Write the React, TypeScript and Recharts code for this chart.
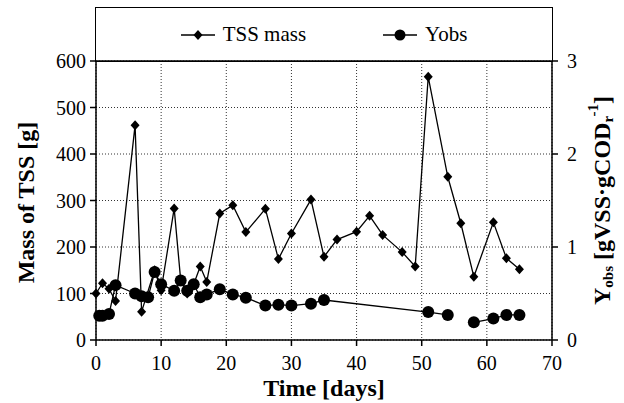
import React from 'react';
import {
  CartesianGrid,
  Legend,
  Line,
  LineChart,
  ReferenceLine,
  XAxis,
  YAxis,
} from 'recharts';

// TSS mass in the reactor [g], by day
const tssDays = [0, 1, 2, 3, 6, 7, 9, 10, 12, 13, 14, 15, 16, 17, 19, 21, 23, 26, 28, 30, 33, 35, 37, 40, 42, 44, 47, 49, 51, 54, 56, 58, 61, 63, 65];
const tssMass = [100, 122, 110, 84, 462, 61, 150, 107, 283, 129, 100, 120, 158, 125, 272, 290, 232, 282, 174, 229, 302, 179, 216, 233, 267, 226, 189, 158, 566, 351, 251, 136, 253, 176, 152];

// observed yield [gVSS/gCODr], null breaks the line
const yobsDays = [0.5, 1, 2, 3, 6, 7, 8, 9, 10, 12, 13, 14, 15, 16, 17, 19, 21, 23, 26, 28, 30, 33, 35, 51, 54, 56, 58, 61, 63, 65];
const yobsValues = [0.26, 0.26, 0.28, 0.59, 0.5, 0.47, 0.46, 0.73, 0.6, 0.53, 0.64, 0.53, 0.6, 0.46, 0.49, 0.545, 0.49, 0.455, 0.37, 0.38, 0.37, 0.39, 0.43, 0.3, 0.27, null, 0.19, 0.23, 0.27, 0.27];

const xTicks = [0, 10, 20, 30, 40, 50, 60, 70];
const leftTicks = [0, 100, 200, 300, 400, 500, 600];
const rightTicks = [0, 1, 2, 3];

const tssData = tssDays.map((day, i) => ({ day, tss: tssMass[i] }));
const yobsData = yobsDays.map((day, i) => ({ day, yobs: yobsValues[i] }));

const FONT = "'Liberation Serif', Tinos, 'Times New Roman', 'DejaVu Serif', serif";

// tick text drawn by hand so the serif face sticks
const makeTick = (anchor: 'start' | 'middle' | 'end', dx: number, dy: number) => (props: any) => {
  const { x, y, payload } = props;
  return (
    <text
      x={x + dx}
      y={y + dy}
      textAnchor={anchor}
      dominantBaseline="central"
      style={{ fontFamily: FONT, fontSize: 20, fontWeight: 'normal' }}
      fill="#000"
    >
      {payload.value}
    </text>
  );
};

const Diamond = (props: any) => {
  const { cx, cy, index } = props;
  if (cx == null || cy == null) return <g key={`dm-${index}`} />;
  return (
    <path
      key={`dm-${index}`}
      d={`M${cx},${cy - 5} L${cx + 4.5},${cy} L${cx},${cy + 5} L${cx - 4.5},${cy} Z`}
      fill="#000"
    />
  );
};

const LegendBox = (props: any) => {
  const payload = props.payload || [];
  return (
    <div
      style={{
        display: 'flex',
        justifyContent: 'center',
        alignItems: 'center',
        gap: 77,
        height: '100%',
        fontFamily: FONT,
        fontSize: 21,
        color: '#000',
      }}
    >
      {payload.map((p: any) => (
        <div key={p.value} style={{ display: 'flex', alignItems: 'center' }}>
          <svg width={34} height={14}>
            <line x1={0} y1={7} x2={34} y2={7} stroke="#000" strokeWidth={1.3} />
            {p.value === 'TSS mass' ? (
              <path d="M17,2 L21.5,7 L17,12 L12.5,7 Z" fill="#000" />
            ) : (
              <circle cx={17} cy={7} r={5.5} fill="#000" />
            )}
          </svg>
          <span style={{ marginLeft: 8, fontFamily: FONT }}>{p.value}</span>
        </div>
      ))}
    </div>
  );
};

const leftTitle = (props: any) => {
  const { viewBox } = props;
  const x = viewBox.x + 10;
  const y = viewBox.y + viewBox.height / 2 + 2;
  return (
    <text
      x={x}
      y={y}
      transform={`rotate(-90, ${x}, ${y})`}
      textAnchor="middle"
      dominantBaseline="central"
      style={{ fontFamily: FONT, fontSize: 24, fontWeight: 'bold' }}
      fill="#000"
    >
      Mass of TSS [g]
    </text>
  );
};

const rightTitle = (props: any) => {
  const { viewBox } = props;
  const x = viewBox.x + viewBox.width - 22;
  const y = viewBox.y + viewBox.height / 2;
  return (
    <text
      x={x}
      y={y}
      transform={`rotate(-90, ${x}, ${y})`}
      textAnchor="middle"
      dominantBaseline="central"
      style={{ fontFamily: FONT, fontSize: 24, fontWeight: 'bold' }}
      fill="#000"
    >
      Y
      <tspan fontSize={15} dy={6}>obs</tspan>
      <tspan dy={-6}> [gVSS·gCOD</tspan>
      <tspan fontSize={15} dy={6}>r</tspan>
      <tspan fontSize={15} dy={-15}>-1</tspan>
      <tspan dy={9}>]</tspan>
    </text>
  );
};

const App: React.FunctionComponent = () => {
  return (
    <div style={{ position: 'absolute', left: 0, top: 0, fontFamily: FONT }}>
      <LineChart
        width={624}
        height={403}
        margin={{ top: 61, right: 0, left: 16, bottom: 33 }}
        style={{ fontFamily: FONT }}
      >
        <CartesianGrid yAxisId="left" stroke="#333" strokeDasharray="1 2" />
        <XAxis
          dataKey="day"
          type="number"
          domain={[0, 70]}
          ticks={xTicks}
          tick={makeTick('middle', 0, 9)}
          tickSize={6}
          tickMargin={8}
          height={30}
          stroke="#000"
          strokeWidth={1.5}
          label={{
            value: 'Time [days]',
            position: 'insideBottom',
            offset: -26,
            fill: '#000',
            fontSize: 24,
            fontWeight: 'bold',
            fontFamily: FONT,
          }}
        />
        <YAxis
          yAxisId="left"
          domain={[0, 600]}
          ticks={leftTicks}
          tick={makeTick('end', 0, 0)}
          tickSize={6}
          tickMargin={4}
          width={80}
          stroke="#000"
          strokeWidth={1.5}
          label={{ content: leftTitle }}
        />
        <YAxis
          yAxisId="right"
          orientation="right"
          domain={[0, 3]}
          ticks={rightTicks}
          tick={makeTick('start', 0, 0)}
          tickSize={6}
          tickMargin={9}
          width={72}
          stroke="#000"
          strokeWidth={1.5}
          label={{ content: rightTitle }}
        />
        <ReferenceLine yAxisId="left" y={600} stroke="#000" strokeWidth={1.5} />
        <Legend
          layout="vertical"
          align="center"
          verticalAlign="middle"
          content={LegendBox}
          wrapperStyle={{
            left: 95,
            top: 7,
            width: 458,
            height: 55,
            border: '1.5px solid #000',
            boxSizing: 'border-box',
            transform: 'none',
          }}
        />
        <Line
          yAxisId="left"
          data={tssData}
          dataKey="tss"
          name="TSS mass"
          stroke="#000"
          strokeWidth={1.3}
          dot={Diamond}
          activeDot={false}
          isAnimationActive={false}
        />
        <Line
          yAxisId="right"
          data={yobsData}
          dataKey="yobs"
          name="Yobs"
          stroke="#000"
          strokeWidth={1.3}
          dot={{ r: 6, fill: '#000', stroke: '#000', strokeWidth: 0 }}
          activeDot={false}
          isAnimationActive={false}
        />
      </LineChart>
    </div>
  );
};

export default App;
